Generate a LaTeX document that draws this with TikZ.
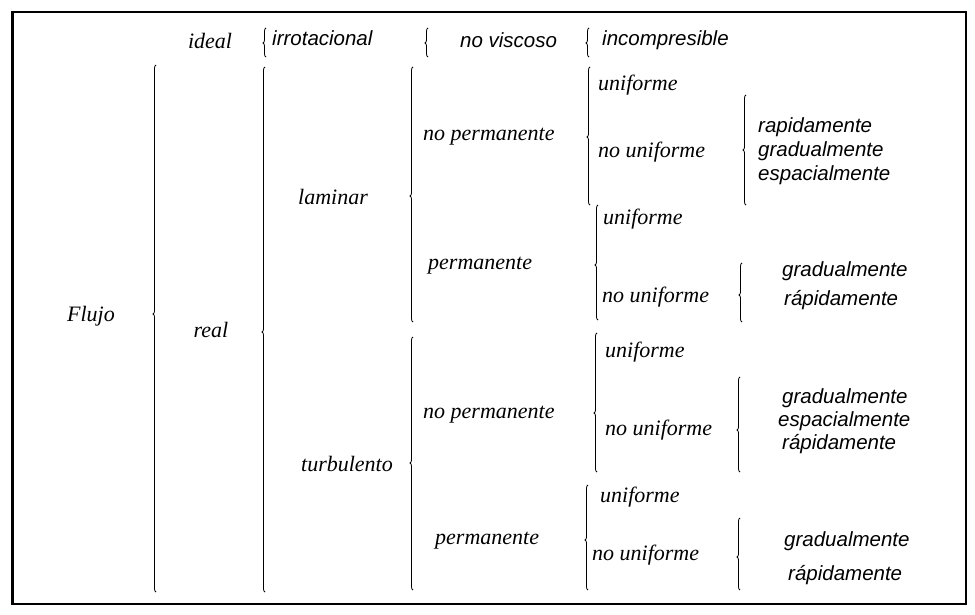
\documentclass[tikz,border=0pt]{standalone}
\usepackage{fontspec}
\setmainfont{Liberation Serif}
\setsansfont{Liberation Sans}
\usetikzlibrary{decorations.pathreplacing}

% llave{x}{arriba}{punta}{abajo}
\newcommand{\llave}[4]{%
  \pgfmathsetmacro{\asp}{(#4-#3)/(#4-#2)}%
  \draw[brc=\asp] (#1,#4) -- (#1,#2);}

\begin{document}
\begin{tikzpicture}[x=1pt, y=-1pt,
    srf/.style={font=\fontsize{22}{26}\selectfont\itshape, inner sep=0pt},
    sns/.style={font=\fontsize{20.5}{24}\selectfont\sffamily\itshape, inner sep=0pt},
    brc/.style={decorate, decoration={brace, amplitude=3pt, aspect=#1}, line width=0.8pt}]
  \useasboundingbox (0,0) rectangle (975,615);
  \draw[line width=1.5pt] (12,12) rectangle (966,604);
  \draw[line width=3pt] (12,12) -- (12,604);

  % primeras columnas
  \node[srf] (flujo) at (91,316) {Flujo};
  \node[srf] (ideal) at (210,41) {ideal};
  \node[srf] (real) at (211,330) {real};
  \node[sns, anchor=west] (irrot) at (272,38) {irrotacional};
  \node[sns, anchor=west] (novisc) at (460,40) {no viscoso};
  \node[sns, anchor=west] (incomp) at (602,40) {incompresible};
  \node[srf] (laminar) at (333,197) {laminar};
  \node[srf] (turb) at (347,464) {turbulento};
  \node[srf, anchor=west] (lnp) at (423,137) {no permanente};
  \node[srf, anchor=west] (lp) at (428,266) {permanente};
  \node[srf, anchor=west] (tnp) at (423,415) {no permanente};
  \node[srf, anchor=west] (tp) at (435,541) {permanente};

  % laminar, no permanente
  \node[srf, anchor=west] (lnpu) at (598,85) {uniforme};
  \node[srf, anchor=west] (lnpn) at (598,152) {no uniforme};
  \node[sns, anchor=west] (lnpn1) at (758,127) {rapidamente};
  \node[sns, anchor=west] (lnpn2) at (758,151) {gradualmente};
  \node[sns, anchor=west] (lnpn3) at (758,175) {espacialmente};

  % laminar, permanente
  \node[srf, anchor=west] (lpu) at (603,219) {uniforme};
  \node[srf, anchor=west] (lpn) at (602,297) {no uniforme};
  \node[sns, anchor=west] (lpn1) at (782,271) {gradualmente};
  \node[sns, anchor=west] (lpn2) at (784,300) {rápidamente};

  % turbulento, no permanente
  \node[srf, anchor=west] (tnpu) at (605,352) {uniforme};
  \node[srf, anchor=west] (tnpn) at (605,430) {no uniforme};
  \node[sns, anchor=west] (tnpn1) at (782,398) {gradualmente};
  \node[sns, anchor=west] (tnpn2) at (778,421) {espacialmente};
  \node[sns, anchor=west] (tnpn3) at (782,444) {rápidamente};

  % turbulento, permanente
  \node[srf, anchor=west] (tpu) at (600,497) {uniforme};
  \node[srf, anchor=west] (tpn) at (592,555) {no uniforme};
  \node[sns, anchor=west] (tpn1) at (784,541) {gradualmente};
  \node[sns, anchor=west] (tpn2) at (788,575) {rápidamente};

  % llaves
  \llave{156}{65}{314}{592}
  \llave{266}{28}{43}{57}
  \llave{428}{28}{43}{57}
  \llave{589}{28}{43}{57}
  \llave{265}{67}{332}{592}
  \llave{413}{67}{196}{322}
  \llave{413}{337}{463}{590}
  \llave{590}{67}{137}{205}
  \llave{746}{95}{150}{205}
  \llave{598}{205}{265}{320}
  \llave{742}{263}{295}{322}
  \llave{597}{333}{413}{472}
  \llave{740}{377}{430}{472}
  \llave{588}{485}{540}{590}
  \llave{740}{518}{557}{590}
\end{tikzpicture}
\end{document}
